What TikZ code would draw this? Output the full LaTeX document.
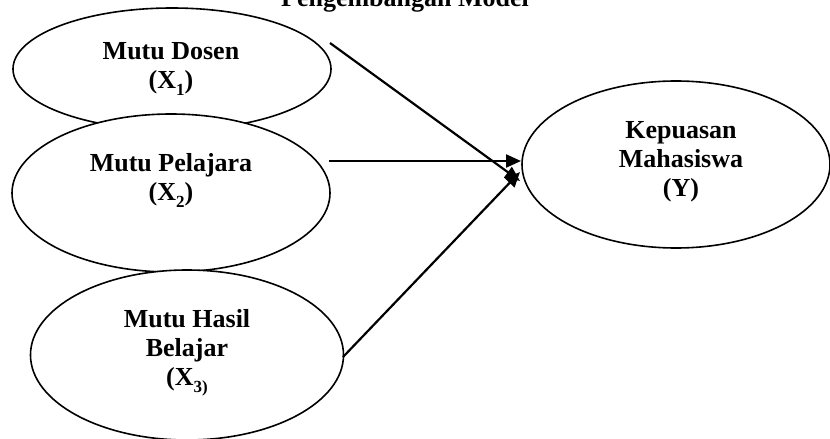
\documentclass[tikz,border=0pt]{standalone}
\usepackage{fontspec}
\setmainfont{Liberation Serif}
\usetikzlibrary{arrows.meta,shapes.geometric}
\newcommand{\subsc}[1]{\raisebox{-0.28em}{\fontsize{17}{17}\selectfont #1}}
\begin{document}
\begin{tikzpicture}[x=1pt,y=-1pt,
  ell/.style={ellipse, draw, fill=white, line width=1.6pt, inner sep=0pt},
  lbl/.style={font=\fontsize{26}{29}\selectfont\bfseries, align=center, inner sep=0pt, anchor=base},
  arr/.style={line width=2.2pt, -{Triangle[length=15pt,width=13pt]}}]
\useasboundingbox (0,0) rectangle (830,439);
% title
\node[lbl] (title) at (405,6) {Pengembangan Model};
% ellipses
\node[ell, minimum width=318pt, minimum height=122pt] (x1) at (172,69) {};
\node[ell, minimum width=318pt, minimum height=158pt] (x2) at (171,193) {};
\node[ell, minimum width=313pt, minimum height=170pt] (x3) at (187,355) {};
\node[ell, minimum width=308pt, minimum height=167pt] (y) at (676,164.5) {};
% labels (base anchor = baseline of the last line)
\node[lbl] (t1) at (171,88) {Mutu Dosen\\(X\subsc{1})};
\node[lbl] (t2) at (171,200) {Mutu Pelajara\\(X\subsc{2})};
\node[lbl] (t3) at (187,385) {Mutu Hasil\\Belajar\\(X\subsc{3)}};
\node[lbl] (ty) at (681,196) {Kepuasan\\Mahasiswa\\(Y)};
% connector ends
\coordinate (s1) at (330,43);
\coordinate (e1) at (520,181);
\coordinate (s2) at (329,161);
\coordinate (e2) at (521,161);
\coordinate (s3) at (343,357);
\coordinate (e3) at (520,172);
\draw[arr] (s1) -- (e1);
\draw[arr] (s2) -- (e2);
\draw[arr] (s3) -- (e3);
\end{tikzpicture}
\end{document}
